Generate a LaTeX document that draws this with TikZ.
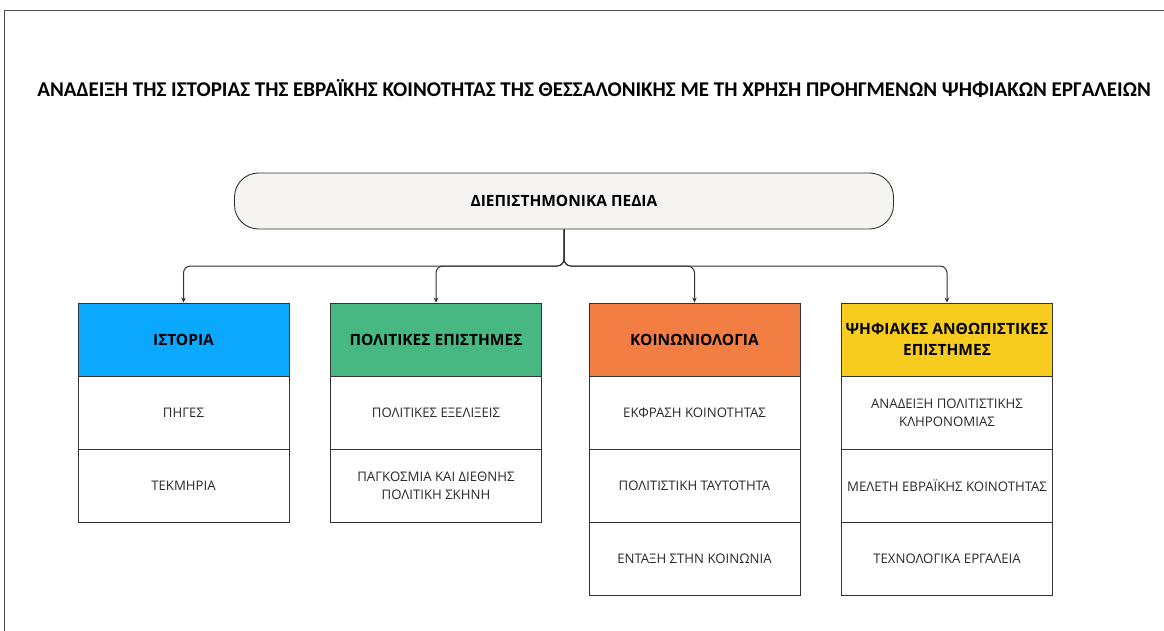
\documentclass[tikz,border=0pt]{standalone}
\usepackage{fontspec}
\setmainfont{Open Sans}
\newfontfamily\titlefont{Carlito}
\usetikzlibrary{arrows.meta}
\definecolor{hblue}{HTML}{0AA8FF}
\definecolor{hgreen}{HTML}{47B881}
\definecolor{horange}{HTML}{F37E44}
\definecolor{hyellow}{HTML}{F7CC1E}
\definecolor{pillfill}{HTML}{F5F4F0}
\definecolor{linegray}{HTML}{333333}
\definecolor{textgray}{HTML}{2A2A2A}
\tikzset{
  cell/.style={draw=linegray, line width=0.9pt, minimum width=211pt, minimum height=73pt, inner sep=2pt, align=center, fill=white},
  headcell/.style={cell, font=\fontsize{15.5}{21}\selectfont\bfseries, text=black},
  bodycell/.style={cell, font=\fontsize{13.2}{18}\selectfont, text=textgray},
  pill/.style={draw=linegray, line width=0.9pt, fill=pillfill, rounded corners=24pt, minimum width=659pt, minimum height=56pt, font=\fontsize{15.5}{18}\selectfont\bfseries},
  conn/.style={draw=linegray, line width=1pt, rounded corners=7pt, -{Stealth[length=5pt,width=4.5pt]}},
  frame/.style={draw=black!70, line width=1pt}
}
\begin{document}
\begin{tikzpicture}[x=1pt,y=-1pt]
\useasboundingbox (0,0) rectangle (1164,631);
\draw[frame] (4,640) -- (4,11) -- (1170,11);
\node[font=\titlefont\fontsize{21}{24}\selectfont\bfseries] (title) at (594,88) {ΑΝΑΔΕΙΞΗ ΤΗΣ ΙΣΤΟΡΙΑΣ ΤΗΣ ΕΒΡΑΪΚΗΣ ΚΟΙΝΟΤΗΤΑΣ ΤΗΣ ΘΕΣΣΑΛΟΝΙΚΗΣ ΜΕ ΤΗ ΧΡΗΣΗ ΠΡΟΗΓΜΕΝΩΝ ΨΗΦΙΑΚΩΝ ΕΡΓΑΛΕΙΩΝ};
\node[pill] (top) at (564,201) {ΔΙΕΠΙΣΤΗΜΟΝΙΚΑ ΠΕΔΙΑ};
% column 1
\node[headcell, fill=hblue] (h1) at (183.5,339.5) {ΙΣΤΟΡΙΑ};
\node[bodycell] (a1) at (183.5,412.5) {ΠΗΓΕΣ};
\node[bodycell] (a2) at (183.5,485.5) {ΤΕΚΜΗΡΙΑ};
% column 2
\node[headcell, fill=hgreen] (h2) at (436,339.5) {ΠΟΛΙΤΙΚΕΣ ΕΠΙΣΤΗΜΕΣ};
\node[bodycell] (b1) at (436,412.5) {ΠΟΛΙΤΙΚΕΣ ΕΞΕΛΙΞΕΙΣ};
\node[bodycell] (b2) at (436,485.5) {ΠΑΓΚΟΣΜΙΑ ΚΑΙ ΔΙΕΘΝΗΣ\\ΠΟΛΙΤΙΚΗ ΣΚΗΝΗ};
% column 3
\node[headcell, fill=horange] (h3) at (694.5,339.5) {ΚΟΙΝΩΝΙΟΛΟΓΙΑ};
\node[bodycell] (c1) at (694.5,412.5) {ΕΚΦΡΑΣΗ ΚΟΙΝΟΤΗΤΑΣ};
\node[bodycell] (c2) at (694.5,485.5) {ΠΟΛΙΤΙΣΤΙΚΗ ΤΑΥΤΟΤΗΤΑ};
\node[bodycell] (c3) at (694.5,558.5) {ΕΝΤΑΞΗ ΣΤΗΝ ΚΟΙΝΩΝΙΑ};
% column 4
\node[headcell, fill=hyellow] (h4) at (947,339.5) {ΨΗΦΙΑΚΕΣ ΑΝΘΩΠΙΣΤΙΚΕΣ\\ΕΠΙΣΤΗΜΕΣ};
\node[bodycell] (d1) at (947,412.5) {ΑΝΑΔΕΙΞΗ ΠΟΛΙΤΙΣΤΙΚΗΣ\\ΚΛΗΡΟΝΟΜΙΑΣ};
\node[bodycell] (d2) at (947,485.5) {ΜΕΛΕΤΗ ΕΒΡΑΪΚΗΣ ΚΟΙΝΟΤΗΤΑΣ};
\node[bodycell] (d3) at (947,558.5) {ΤΕΧΝΟΛΟΓΙΚΑ ΕΡΓΑΛΕΙΑ};
% connectors
\coordinate (bus) at (0,266);
\foreach \h in {h1,h2,h3,h4}{
  \draw[conn] (top.south) |- (bus -| \h.north) -- (\h.north);
}
\end{tikzpicture}
\end{document}
